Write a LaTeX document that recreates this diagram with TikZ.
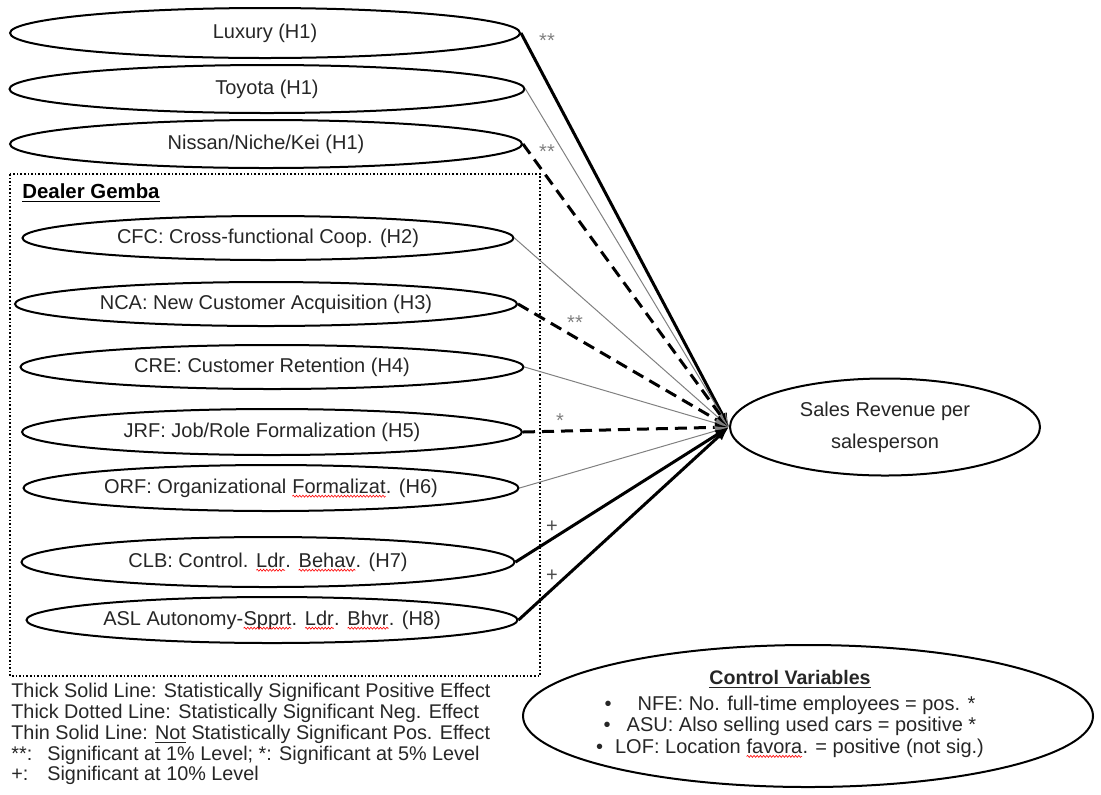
\documentclass[tikz,border=0pt]{standalone}
\usepackage{fontspec}
\setmainfont{Liberation Sans}
\usepackage{tikz}
\usepackage{xcolor}
\usetikzlibrary{shapes.geometric,arrows.meta,decorations.pathmorphing}

\newcommand{\squig}[1]{\tikz[baseline=(w.base)]{\node[shape=rectangle,draw=none,inner sep=0pt,outer sep=0pt,
        minimum width=0pt,minimum height=0pt,anchor=base] (w) at (0,0) {#1};
    \draw[red,line width=0.3pt,decorate,decoration={snake,amplitude=0.5pt,segment length=1.6pt}]
        ([yshift=-1.6pt]w.base west) -- ([yshift=-1.6pt]w.base east);}}

\begin{document}
\begin{tikzpicture}[x=0.5pt,y=-0.5pt,
        oval/.style={draw,ellipse,line width=1pt,inner sep=0pt,text=black!85,font=\fontsize{10}{12}\selectfont},
        posline/.style={line width=1.5pt,-{Latex[length=7pt,width=5pt]}},
        negline/.style={line width=1.5pt,dash pattern=on 6pt off 3.5pt,-{Latex[length=7pt,width=5pt]}},
        thinline/.style={line width=0.5pt,gray,-{Latex[length=7pt,width=5pt]}},
        sig/.style={font=\fontsize{10}{12}\selectfont,text=gray}]
        \useasboundingbox (0,0) rectangle (1101,794);
        \node[oval,minimum width=255pt,minimum height=25pt] (lux) at (265,33) {Luxury (H1)};
        \node[oval,minimum width=257.5pt,minimum height=24pt] (toy) at (267,89) {Toyota (H1)};
        \node[oval,minimum width=256pt,minimum height=24pt] (nis) at (266,144) {Nissan/Niche/Kei (H1)};
        \draw[densely dotted,line width=0.8pt] (10,174) rectangle (540,676);
        \node[anchor=west,inner sep=0pt,font=\bfseries\fontsize{10.2}{12}\selectfont] (gemba) at (22,193) {\underline{Dealer Gemba}};
        \node[oval,minimum width=245.5pt,minimum height=22pt] (cfc) at (268,238) {CFC: Cross-functional Coop. (H2)};
        \node[oval,minimum width=251pt,minimum height=22pt] (nca) at (266,304) {NCA: New Customer Acquisition (H3)};
        \node[oval,minimum width=251.5pt,minimum height=22pt] (cre) at (272,367) {CRE: Customer Retention (H4)};
        \node[oval,minimum width=250pt,minimum height=23pt] (jrf) at (272,432) {JRF: Job/Role Formalization (H5)};
        \node[oval,minimum width=247.5pt,minimum height=23pt] (orf) at (271,488) {ORF: Organizational \squig{Formalizat}. (H6)};
        \node[oval,minimum width=246.5pt,minimum height=25pt] (clb) at (268,562) {CLB: Control. \squig{Ldr}. \squig{Behav}. (H7)};
        \node[oval,minimum width=245.5pt,minimum height=23pt] (asl) at (272,620) {ASL Autonomy-\squig{Spprt}. \squig{Ldr}. \squig{Bhvr}. (H8)};
        \node[oval,minimum width=155pt,minimum height=48.5pt,align=center,font=\fontsize{10}{16}\selectfont] (sales) at (885,427) {Sales Revenue per\\salesperson};
        \node[oval,minimum width=285pt,minimum height=71pt] (ctrl) at (808,716) {};
        \node[align=center,inner sep=0pt,text=black!85,font=\fontsize{10}{10.6}\selectfont] (ctrltext) at (790,714)
            {{\bfseries\fontsize{9.8}{12}\selectfont\underline{Control Variables}}\\[2.5pt]
             \textbullet\hspace{13pt}NFE: No. full-time employees = pos. *\\
             \textbullet\hspace{8pt}ASU: Also selling used cars = positive *\\
             \textbullet\hspace{6pt}LOF: Location \squig{favora}. = positive (not sig.)};
        \node[anchor=north west,align=left,inner sep=0pt,text=black!85,font=\fontsize{9.9}{10.4}\selectfont] (legend) at (11,683)
            {Thick Solid Line: Statistically Significant Positive Effect\\
             Thick Dotted Line: Statistically Significant Neg. Effect\\
             Thin Solid Line: \underline{Not} Statistically Significant Pos. Effect\\
             \makebox[18pt][l]{**:}Significant at 1\% Level; *: Significant at 5\% Level\\
             \makebox[18pt][l]{+:}Significant at 10\% Level};
        \draw[posline] (lux.east) -- (sales.west);
        \draw[thinline] (toy.east) -- (sales.west);
        \draw[negline] (nis.east) -- (sales.west);
        \draw[thinline] (cfc.east) -- (sales.west);
        \draw[negline] (nca.east) -- (sales.west);
        \draw[thinline] (cre.east) -- (sales.west);
        \draw[negline] (jrf.east) -- (sales.west);
        \draw[thinline] (orf.east) -- (sales.west);
        \draw[posline] (clb.east) -- (sales.west);
        \draw[posline] (asl.east) -- (sales.west);
        \node[sig] (s1) at (547,41) {**};
        \node[sig] (s2) at (547,152) {**};
        \node[sig] (s3) at (575,323) {**};
        \node[sig] (s4) at (560,421) {*};
        \node[sig,text=black!70] (s5) at (552,527) {+};
        \node[sig,text=black!70] (s6) at (552,576) {+};
\end{tikzpicture}
\end{document}
